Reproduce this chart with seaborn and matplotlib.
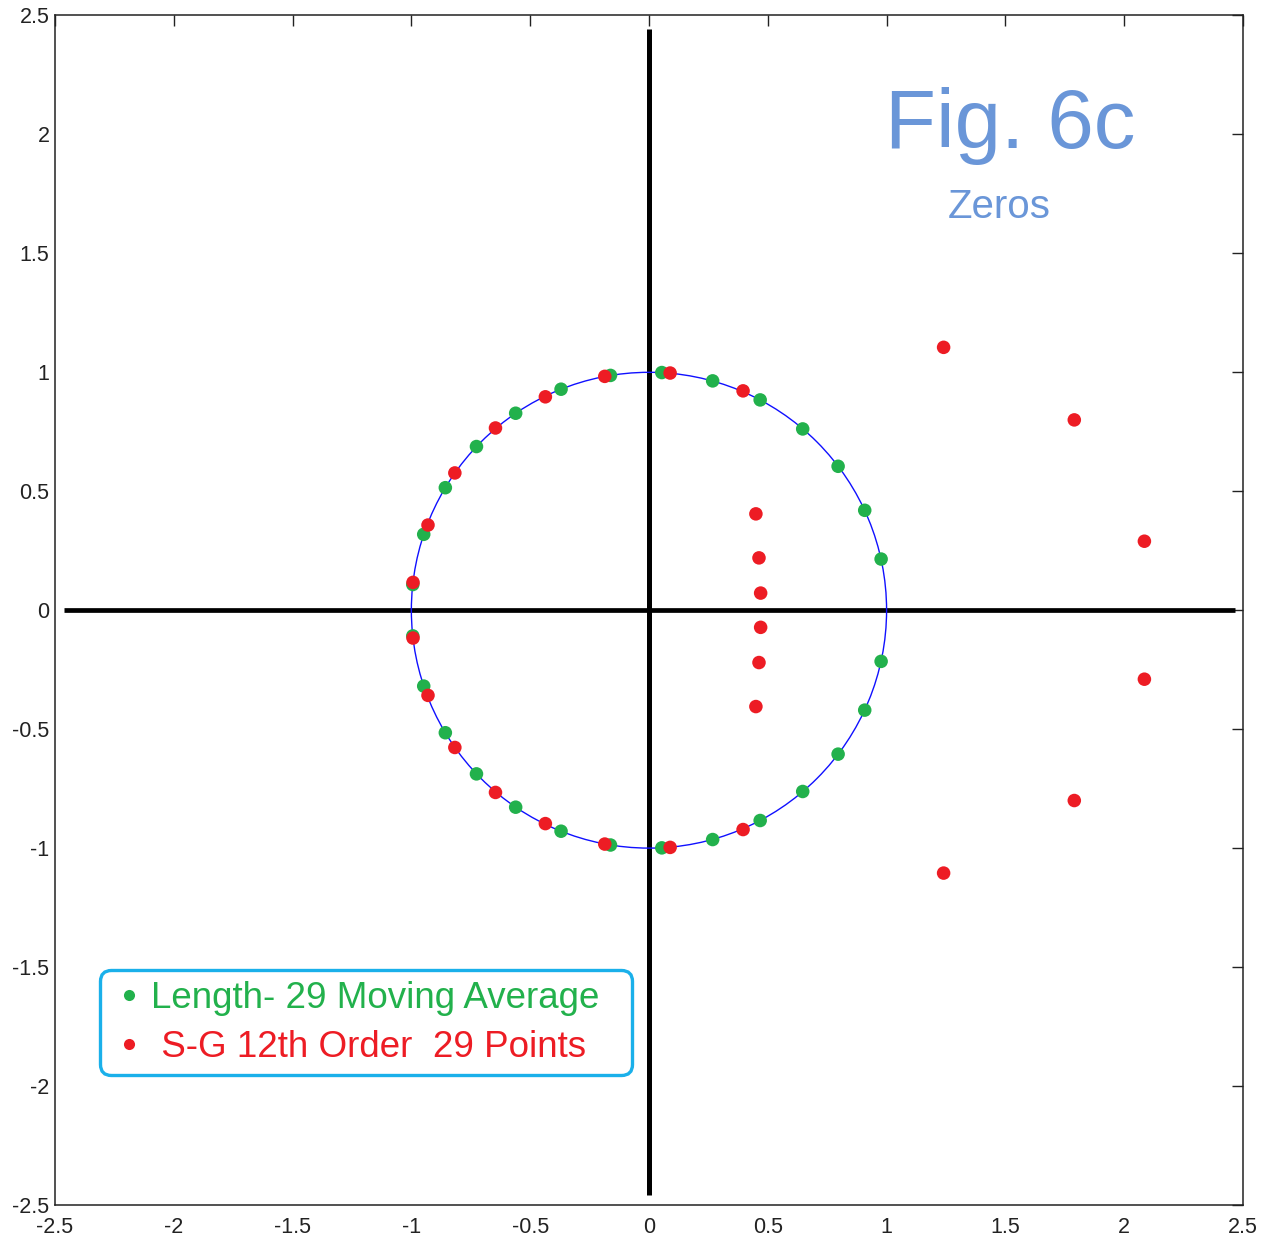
import numpy as np
import pandas as pd
import matplotlib
matplotlib.use("Agg")
import matplotlib.pyplot as plt
import seaborn as sns
from matplotlib.lines import Line2D

ma_re = [0.977, 0.908, 0.796, 0.647, 0.468, 0.268, 0.054, -0.162, -0.370, -0.561, -0.726, -0.857, -0.948, -0.994,
         0.977, 0.908, 0.796, 0.647, 0.468, 0.268, 0.054, -0.162, -0.370, -0.561, -0.726, -0.857, -0.948, -0.994]
ma_im = [0.215, 0.420, 0.605, 0.762, 0.884, 0.964, 0.999, 0.987, 0.929, 0.828, 0.688, 0.515, 0.319, 0.108,
         -0.215, -0.420, -0.605, -0.762, -0.884, -0.964, -0.999, -0.987, -0.929, -0.828, -0.688, -0.515, -0.319, -0.108]

sg_re = [0.089, 0.396, -0.186, -0.436, -0.646, -0.817, -0.930, -0.993,
         0.089, 0.396, -0.186, -0.436, -0.646, -0.817, -0.930, -0.993,
         0.450, 0.463, 0.470, 0.470, 0.463, 0.450,
         1.240, 1.790, 2.085, 2.085, 1.790, 1.240]
sg_im = [0.997, 0.922, 0.983, 0.897, 0.766, 0.577, 0.358, 0.117,
         -0.997, -0.922, -0.983, -0.897, -0.766, -0.577, -0.358, -0.117,
         0.405, 0.220, 0.072, -0.072, -0.220, -0.405,
         1.105, 0.800, 0.290, -0.290, -0.800, -1.105]

ticks = [-2.5, -2, -1.5, -1, -0.5, 0, 0.5, 1, 1.5, 2, 2.5]
tick_labels = ["-2.5", "-2", "-1.5", "-1", "-0.5", "0", "0.5", "1", "1.5", "2", "2.5"]

green = "#22b14c"
red = "#ed1c24"
title_blue = "#6a96d8"

ma = pd.DataFrame({"re": ma_re, "im": ma_im})
sg = pd.DataFrame({"re": sg_re, "im": sg_im})

sns.set_theme(style="white")
plt.rcParams["font.family"] = ["Liberation Sans", "DejaVu Sans"]

fig = plt.figure(figsize=(12.72, 12.38), dpi=100)
ax = fig.add_axes([0.0432, 0.0267, 0.934, 0.9608])

# unit circle and thick axis lines
ax.add_patch(plt.Circle((0, 0), 1, fill=False, color="#1010ff", lw=1.0, zorder=2))
ax.hlines(0, -2.461, 2.466, color="black", lw=3.4, zorder=1)
ax.vlines(0, -2.459, 2.442, color="black", lw=3.6, zorder=1)

sns.scatterplot(data=ma, x="re", y="im", ax=ax, color=green, s=95, edgecolor="none", zorder=3)
sns.scatterplot(data=sg, x="re", y="im", ax=ax, color=red, s=95, edgecolor="none", zorder=4)

ax.set_xlim(-2.5, 2.5)
ax.set_ylim(-2.5, 2.5)
ax.set_xticks(ticks)
ax.set_yticks(ticks)
ax.set_xticklabels(tick_labels)
ax.set_yticklabels(tick_labels)
ax.set_xlabel("")
ax.set_ylabel("")
ax.tick_params(direction="in", length=8, width=1, colors="#222222",
               labelsize=15.5, top=True, right=True, pad=9)
ax.tick_params(axis="y", pad=4)
for sp in ax.spines.values():
    sp.set_color("#222222")
    sp.set_linewidth(1.1)

ax.text(1.519, 1.942, "Fig. 6c", color=title_blue, fontsize=60, ha="center", va="baseline")
ax.text(1.473, 1.648, "Zeros", color=title_blue, fontsize=29, ha="center", va="baseline")

handles = [
    Line2D([], [], marker="o", color=green, ls="none", markersize=8, markeredgewidth=0),
    Line2D([], [], marker="o", color=red, ls="none", markersize=8, markeredgewidth=0),
]
labels = ["Length- 29 Moving Average", " S-G 12th Order  29 Points"]
leg = ax.legend(handles, labels, loc="lower left", bbox_to_anchor=(0.0379, 0.1093, 0.4478, 0.1),
                mode="expand", borderaxespad=0, fontsize=26.5, labelcolor=[green, red],
                frameon=True, fancybox=True, framealpha=1, edgecolor="#1ab0ea",
                borderpad=0.28, handlelength=1.0, handletextpad=0.1, labelspacing=0.38)
leg.get_frame().set_linewidth(2.4)
leg.get_frame().set_boxstyle("round,pad=0,rounding_size=0.3")

fig.savefig("out.png", dpi=100)
